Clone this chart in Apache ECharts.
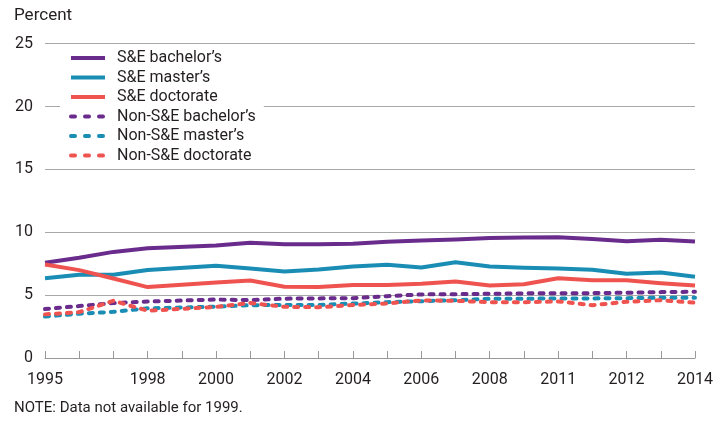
<!DOCTYPE html>
<html>
<head>
<meta charset="utf-8">
<script src="https://cdn.jsdelivr.net/npm/echarts@6/dist/echarts.min.js"></script>
<style>
html,body{margin:0;padding:0;background:#fff;}
#chart{width:725px;height:425px;}
</style>
</head>
<body>
<div id="chart"></div>
<script>
// Survey years (index 4 = 1999, no data)
const categories = ['1995','1996','1997','1998','1999','2000','2001','2002','2003','2004','2005','2006','2007','2008','2009','2010','2011','2012','2013','2014'];
// Tick labels as printed under each tick
const xTickLabels = ['1995','','','1998','','2000','','2002','','2004','','2006','','2008','','2011','','2012','','2014'];
const yTicks = [0, 5, 10, 15, 20, 25];

const seBachelor   = [7.57, 7.97, 8.44, 8.73, null, 8.94, 9.16, 9.05, 9.05, 9.08, 9.24, 9.34, 9.42, 9.55, 9.58, 9.60, 9.47, 9.29, 9.40, 9.26];
const seMaster     = [6.35, 6.62, 6.62, 7.00, null, 7.33, 7.12, 6.88, 7.04, 7.28, 7.41, 7.20, 7.62, 7.28, 7.17, 7.12, 7.02, 6.70, 6.80, 6.46];
const seDoctorate  = [7.44, 6.99, 6.32, 5.64, null, 6.00, 6.17, 5.67, 5.64, 5.80, 5.80, 5.90, 6.09, 5.77, 5.87, 6.35, 6.19, 6.19, 5.95, 5.77];
const nonBachelor  = [3.90, 4.13, 4.37, 4.49, null, 4.65, 4.60, 4.72, 4.74, 4.76, 4.92, 5.06, 5.08, 5.11, 5.14, 5.16, 5.16, 5.19, 5.24, 5.27];
const nonMaster    = [3.30, 3.52, 3.67, 3.95, null, 4.08, 4.20, 4.22, 4.22, 4.33, 4.44, 4.52, 4.60, 4.71, 4.71, 4.74, 4.74, 4.76, 4.79, 4.79];
const nonDoctorate = [3.47, 3.65, 4.55, 3.76, null, 4.06, 4.38, 4.07, 4.04, 4.22, 4.34, 4.58, 4.55, 4.44, 4.44, 4.50, 4.20, 4.47, 4.60, 4.40];

const seriesNames = ["S&E bachelor’s","S&E master’s","S&E doctorate","Non-S&E bachelor’s","Non-S&E master’s","Non-S&E doctorate"];
const PURPLE = '#6a2c8c', TEAL = '#1a8db5', RED = '#ef5350';
const FONT = 'Roboto, "Liberation Sans", sans-serif';
const TXT = '#231f20';

function mk(name, data, color, dashed) {
  return {
    name: name, type: 'line', data: data, connectNulls: true,
    showSymbol: false, symbol: 'none', smooth: false,
    z: dashed ? 2 : 3,
    itemStyle: {color: color},
    lineStyle: {color: color, width: 4, type: dashed ? [4, 7] : 'solid', cap: dashed ? 'round' : 'butt', join: 'round'},
    emphasis: {disabled: true}
  };
}

const legendData = seriesNames.map(function (n, i) {
  return i < 3
    ? {name: n, lineStyle: {width: 4, type: 'solid'}}
    : {name: n, lineStyle: {width: 4, type: [4, 10], cap: 'round'}};
});

const chart = echarts.init(document.getElementById('chart'), null, {renderer: 'canvas'});
chart.setOption({
  animation: false,
  backgroundColor: '#fff',
  textStyle: {fontFamily: FONT},
  grid: {left: 45, right: 30, top: 43.7, bottom: 67},
  graphic: [
    {type: 'text', left: 14, top: 7, style: {text: 'Percent', font: '17px ' + FONT, fill: TXT}},
    {type: 'text', left: 14, top: 401, style: {text: 'NOTE: Data not available for 1999.', font: '15px ' + FONT, fill: TXT}}
  ],
  legend: {
    orient: 'vertical', left: 60, top: 45,
    backgroundColor: '#fff',
    padding: [5, 8, 5, 9],
    itemWidth: 34, itemHeight: 12, itemGap: 3.5,
    data: legendData,
    itemStyle: {opacity: 0},
    lineStyle: {width: 4},
    textStyle: {fontFamily: FONT, fontSize: 16, color: TXT, lineHeight: 16, padding: [0, 0, 0, 7]}
  },
  xAxis: {
    type: 'category', data: categories, boundaryGap: false,
    axisLine: {show: true, lineStyle: {color: '#999', width: 1}},
    axisTick: {show: true, inside: true, length: 7, interval: 0, lineStyle: {color: '#999', width: 1}},
    axisLabel: {interval: 0, margin: 14, fontSize: 16, color: TXT, fontFamily: FONT,
      formatter: function (v, i) { return xTickLabels[i]; }},
    splitLine: {show: false}
  },
  yAxis: {
    type: 'value', min: yTicks[0], max: yTicks[yTicks.length - 1], interval: 5,
    axisLine: {show: false}, axisTick: {show: false},
    axisLabel: {margin: 12, fontSize: 16, color: TXT, fontFamily: FONT},
    splitLine: {show: true, lineStyle: {color: '#a8a8a8', width: 1}}
  },
  series: [
    mk(seriesNames[3], nonBachelor, PURPLE, true),
    mk(seriesNames[4], nonMaster, TEAL, true),
    mk(seriesNames[5], nonDoctorate, RED, true),
    mk(seriesNames[0], seBachelor, PURPLE, false),
    mk(seriesNames[1], seMaster, TEAL, false),
    mk(seriesNames[2], seDoctorate, RED, false)
  ]
});
</script>
</body>
</html>
